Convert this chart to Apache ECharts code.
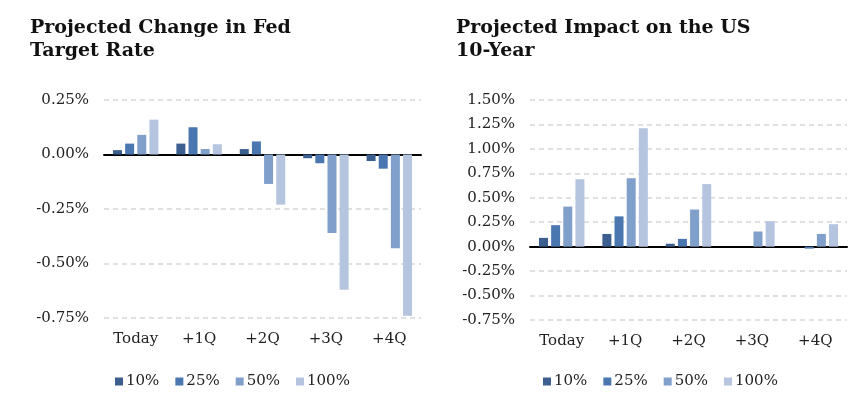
<!DOCTYPE html>
<html>
<head>
<meta charset="utf-8">
<script src="https://cdn.jsdelivr.net/npm/echarts@6/dist/echarts.min.js"></script>
<style>
  html, body { margin: 0; padding: 0; background: #fff; }
  #main { width: 867px; height: 402px; }
</style>
</head>
<body>
<div id="main"></div>
<script>
var categories = ['Today', '+1Q', '+2Q', '+3Q', '+4Q'];
var seriesNames = ['10%', '25%', '50%', '100%'];
var colors = ['#3d5f8f', '#4a77b0', '#809fca', '#b6c5df'];

// Projected Change in Fed Target Rate (%)
var fed10 = [0.02, 0.05, 0.025, -0.017, -0.03];
var fed25 = [0.05, 0.125, 0.06, -0.04, -0.065];
var fed50 = [0.09, 0.025, -0.135, -0.36, -0.43];
var fed100 = [0.16, 0.047, -0.23, -0.62, -0.74];

// Projected Impact on the US 10-Year (%)
var ust10 = [0.09, 0.13, 0.03, 0, 0];
var ust25 = [0.22, 0.31, 0.08, 0, -0.02];
var ust50 = [0.41, 0.70, 0.38, 0.155, 0.13];
var ust100 = [0.69, 1.21, 0.64, 0.26, 0.23];

var fedData = [fed10, fed25, fed50, fed100];
var ustData = [ust10, ust25, ust50, ust100];

var serif = "'DejaVu Serif', Georgia, serif";
var chart = echarts.init(document.getElementById('main'));

function pct(v) { return v.toFixed(2) + '%'; }

function yAxisFor(idx, min, max) {
  return {
    gridIndex: idx,
    type: 'value',
    min: min,
    max: max,
    interval: 0.25,
    axisLine: { show: false },
    axisTick: { show: false },
    axisLabel: { formatter: pct, color: '#222', fontFamily: serif, fontSize: 15, margin: 15 },
    splitLine: { lineStyle: { color: '#d6d6d6', type: [5, 4], width: 1.5 } }
  };
}

// zero line axis (labels hidden)
function zeroAxis(idx) {
  return {
    gridIndex: idx,
    type: 'category',
    data: categories,
    axisLine: { onZero: true, lineStyle: { color: '#000', width: 2 } },
    axisTick: { show: false },
    axisLabel: { show: false }
  };
}

// category labels under the plot area
function labelAxis(idx) {
  return {
    gridIndex: idx,
    type: 'category',
    data: categories,
    position: 'bottom',
    axisLine: { show: false, onZero: false },
    axisTick: { show: false },
    axisLabel: { color: '#222', fontFamily: serif, fontSize: 15, margin: 14 }
  };
}

var series = [];
fedData.forEach(function (d, i) {
  series.push({
    name: seriesNames[i], type: 'bar', xAxisIndex: 0, yAxisIndex: 0,
    data: d, barWidth: 9, barGap: '35%',
    itemStyle: { color: colors[i] }
  });
});
ustData.forEach(function (d, i) {
  series.push({
    name: seriesNames[i], type: 'bar', xAxisIndex: 1, yAxisIndex: 1,
    data: d, barWidth: 9, barGap: '35%',
    itemStyle: { color: colors[i] }
  });
});

var legendBase = {
  data: seriesNames,
  icon: 'rect',
  itemWidth: 8,
  itemHeight: 8,
  itemGap: 16,
  top: 369,
  textStyle: { color: '#222', fontFamily: serif, fontSize: 15, padding: [0, 0, 0, -2] },
  selectedMode: false
};

var titleStyle = { fontFamily: serif, fontWeight: 'bold', fontSize: 19, lineHeight: 23, color: '#111' };

var option = {
  animation: false,
  color: colors,
  title: [
    { text: 'Projected Change in Fed\nTarget Rate', left: 25, top: 12, textStyle: titleStyle },
    { text: 'Projected Impact on the US\n10-Year', left: 451, top: 12, textStyle: titleStyle }
  ],
  legend: [
    Object.assign({}, legendBase, { left: 110 }),
    Object.assign({}, legendBase, { left: 538 })
  ],
  grid: [
    { left: 104, width: 317, top: 100, height: 218 },
    { left: 530, width: 317, top: 100, height: 220 }
  ],
  xAxis: [zeroAxis(0), zeroAxis(1), labelAxis(0), labelAxis(1)],
  yAxis: [yAxisFor(0, -0.75, 0.25), yAxisFor(1, -0.75, 1.5)],
  series: series
};

chart.setOption(option);
</script>
</body>
</html>
